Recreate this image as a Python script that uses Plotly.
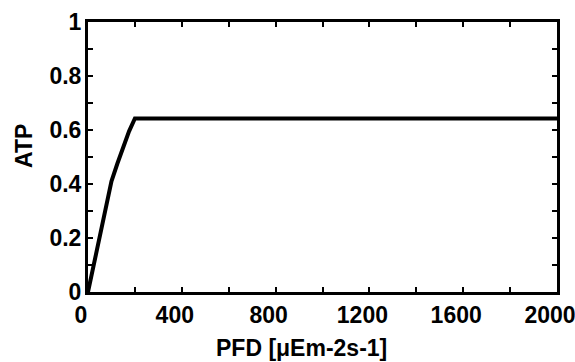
import plotly.graph_objects as go

pfd = [0, 50, 100, 125, 150, 175, 200, 2000]
atp = [0, 0.205, 0.41, 0.475, 0.54, 0.595, 0.643, 0.643]

x_tickvals = [0, 200, 400, 600, 800, 1000, 1200, 1400, 1600, 1800, 2000]
x_ticktext = ["0", "", "400", "", "800", "", "1200", "", "1600", "", "2000"]
y_tickvals = [0, 0.1, 0.2, 0.3, 0.4, 0.5, 0.6, 0.7, 0.8, 0.9, 1.0]
y_ticktext = ["0", "", "0.2", "", "0.4", "", "0.6", "", "0.8", "", "1"]

x_title = "PFD [μEm-2s-1]"
y_title = "ATP"

FAM = "Liberation Sans, Arial, sans-serif"
font = dict(family=FAM, size=23, color="black", weight="bold")

L, R, T, B = 88, 18, 22, 70
W, H = 575, 362
pw, ph = W - L - R, H - T - B

fig = go.Figure()
fig.add_trace(go.Scatter(x=pfd, y=atp, mode="lines",
                         line=dict(color="black", width=4), showlegend=False))

axis_common = dict(showgrid=False, zeroline=False, showline=True, linecolor="black",
                   linewidth=3, mirror="allticks", ticks="inside", ticklen=5,
                   tickwidth=2, tickcolor="black", tickfont=font, automargin=False,
                   ticklabeloverflow="allow")

fig.update_layout(
    width=W, height=H,
    margin=dict(l=L, r=R, t=T, b=B),
    plot_bgcolor="white", paper_bgcolor="white",
    font=font,
    xaxis=dict(range=[0, 2000], tickmode="array", tickvals=x_tickvals,
               ticktext=x_ticktext, ticklabelshift=-7, **axis_common),
    yaxis=dict(range=[0, 1], tickmode="array", tickvals=y_tickvals,
               ticktext=y_ticktext, ticklabelstandoff=-1, **axis_common),
    annotations=[
        dict(text=x_title, x=(301 - L) / pw, y=(H - B - 348) / ph,
             xref="paper", yref="paper", xanchor="center", yanchor="middle",
             showarrow=False, font=font),
        dict(text=y_title, x=(24 - L) / pw, y=(H - B - 146) / ph, textangle=-90,
             xref="paper", yref="paper", xanchor="center", yanchor="middle",
             showarrow=False, font=font),
    ],
)

fig.write_html("out.html", config={"displayModeBar": False},
               post_script="document.body.style.margin='0';document.body.style.overflow='hidden';")
